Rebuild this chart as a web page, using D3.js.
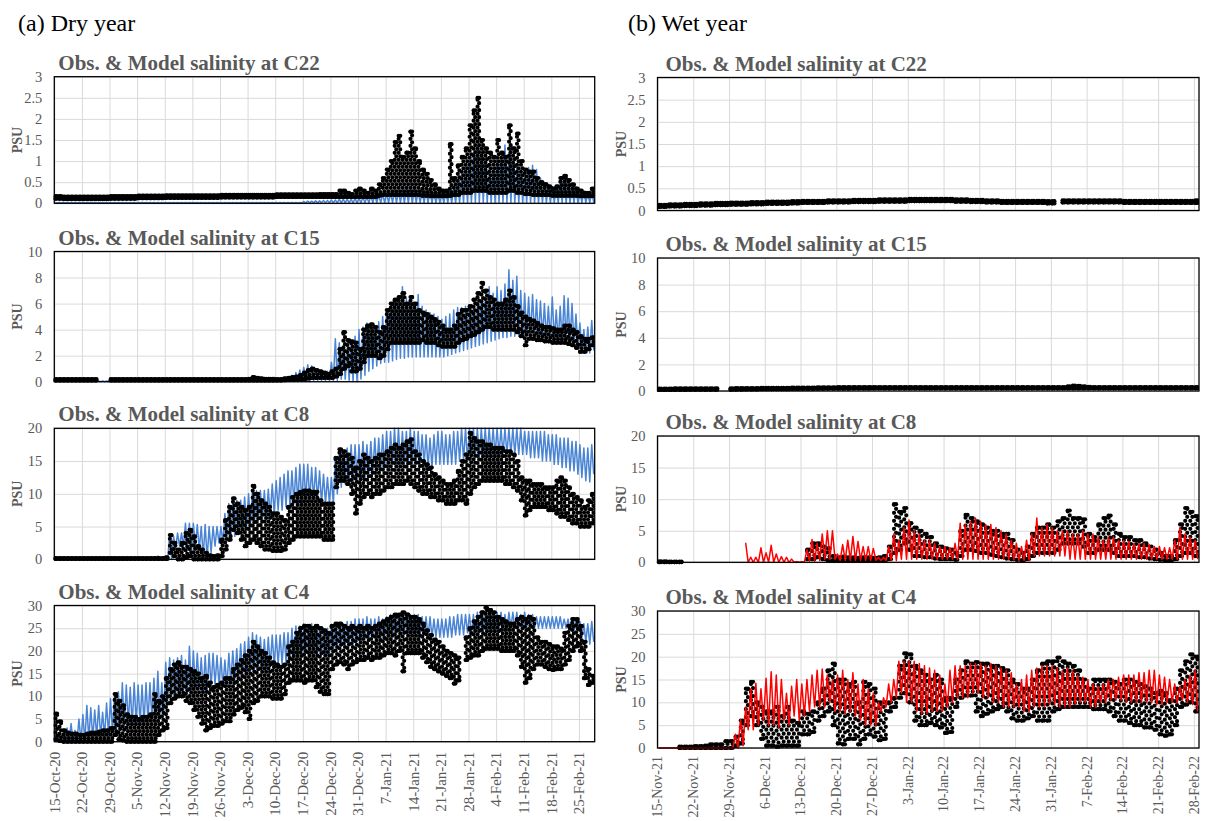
<!DOCTYPE html>
<html><head><meta charset="utf-8">
<script src="https://cdn.jsdelivr.net/npm/d3@7"></script>
<style>body{margin:0;background:#fff}svg{display:block}</style>
</head><body><svg id="c" width="1208" height="821"></svg>
<script>
// ---------- DATA ----------
const dryTickLabels = ["15-Oct-20","22-Oct-20","29-Oct-20","5-Nov-20","12-Nov-20","19-Nov-20","26-Nov-20","3-Dec-20","10-Dec-20","17-Dec-20","24-Dec-20","31-Dec-20","7-Jan-21","14-Jan-21","21-Jan-21","28-Jan-21","4-Feb-21","11-Feb-21","18-Feb-21","25-Feb-21"];
const wetTickLabels = ["15-Nov-21","22-Nov-21","29-Nov-21","6-Dec-21","13-Dec-21","20-Dec-21","27-Dec-21","3-Jan-22","10-Jan-22","17-Jan-22","24-Jan-22","31-Jan-22","7-Feb-22","14-Feb-22","21-Feb-22","28-Feb-22"];
const dryPeriod = ["15-Oct-20","1-Mar-21"];
const wetPeriod = ["15-Nov-21","1-Mar-22"];
const stations = ["C22","C15","C8","C4"];

// Dry year (one value per day from 15-Oct-20): observed daily high / low, model daily max / min
const dryC22ObsHi=[.17,.17,.16,.16,.16,.16,.16, .16,.16,.16,.16,.16,.16,.16, .17,.17,.17,.17,.17,.17,.17, .18,.18,.18,.18,.18,.18,.18, .19,.19,.19,.19,.19,.19,.19, .19,.19,.19,.19,.19,.19,.19, .2,.2,.2,.2,.2,.2,.2, .2,.2,.2,.2,.2,.2,.2, .21,.21,.21,.21,.21,.21,.21, .21,.21,.21,.21,.22,.22,.22, .22,.22,.3,.3,.25,.22,.3, .35,.3,.25,.35,.3,.45,.6, .8,1.0,1.45,1.6,1.1,1.2,1.7, 1.3,1.0,.8,.7,.55,.45,.35, .3,.3,1.4,.6,.9,1.1,1.3, 1.85,2.2,2.5,1.5,1.3,1.2,1.1, 1.5,1.2,1.1,1.85,1.3,1.65,1.0, .8,.75,.75,.6,.5,.45,.4, .35,.4,.6,.65,.55,.45,.35, .3,.25,.25,.35];
const dryC22ObsLo=[.11,.11,.1,.1,.1,.1,.1, .1,.1,.1,.1,.1,.1,.1, .11,.11,.11,.11,.11,.11,.11, .12,.12,.12,.12,.12,.12,.12, .13,.13,.13,.13,.13,.13,.13, .13,.13,.13,.13,.13,.13,.13, .14,.14,.14,.14,.14,.14,.14, .14,.14,.14,.14,.14,.14,.14, .15,.15,.15,.15,.15,.15,.15, .15,.15,.15,.15,.15,.15,.15, .15,.15,.15,.15,.15,.15,.15, .15,.15,.15,.15,.15,.18,.2, .2,.2,.2,.2,.2,.2,.2, .2,.2,.18,.18,.17,.17,.17, .17,.17,.18,.2,.2,.25,.25, .25,.3,.3,.3,.3,.25,.25, .25,.25,.25,.3,.3,.25,.25, .22,.22,.2,.2,.2,.2,.2, .18,.18,.18,.18,.18,.18,.18, .17,.17,.17,.17];
const dryC22ModMax=[.02,.02,.02,.02,.02,.02,.02, .02,.02,.02,.02,.02,.02,.02, .02,.02,.02,.02,.02,.02,.02, .02,.02,.02,.02,.02,.02,.02, .02,.02,.02,.02,.02,.02,.02, .02,.02,.02,.02,.02,.02,.02, .02,.02,.02,.02,.02,.02,.02, .02,.02,.02,.02,.02,.02,.02, .02,.02,.02,.02,.02,.02,.02, .04,.05,.05,.06,.06,.07,.07, .08,.08,.1,.1,.1,.1,.12, .12,.15,.15,.18,.2,.2,.22, .25,.25,.3,.3,.3,.35,.35, .35,.3,.3,.3,.3,.25,.25, .25,.3,.3,.35,.5,.7,.9, 1.0,1.2,1.35,1.2,1.0,.9,.8, 1.0,1.1,1.38,1.2,1.0,.9,.8, .8,.85,.9,.8,.6,.5,.45, .4,.4,.5,.6,.45,.4,.35, .3,.3,.25,.3];
const dryC22ModMin=[.01,.01,.01,.01,.01,.01,.01, .01,.01,.01,.01,.01,.01,.01, .01,.01,.01,.01,.01,.01,.01, .01,.01,.01,.01,.01,.01,.01, .01,.01,.01,.01,.01,.01,.01, .01,.01,.01,.01,.01,.01,.01, .01,.01,.01,.01,.01,.01,.01, .01,.01,.01,.01,.01,.01,.01, .01,.01,.01,.01,.01,.01,.01, .01,.01,.01,.01,.01,.01,.01, .01,.01,.01,.01,.01,.01,.01, .01,.01,.01,.01,.01,.01,.01, .01,.01,.01,.01,.01,.01,.01, .01,.01,.01,.01,.01,.01,.01, .01,.01,.01,.01,.01,.01,.01, .01,.01,.01,.01,.01,.01,.01, .01,.01,.01,.01,.01,.01,.01, .01,.01,.01,.01,.01,.01,.01, .01,.01,.01,.01,.01,.01,.01, .01,.01,.01,.01];

const dryC15ObsHi=[.2,.2,.2,.2,.2,.2,.2, .2,.2,.2,.2,null,null,null, .2,.2,.2,.2,.2,.2,.2, .2,.2,.2,.2,.2,.2,.2, .2,.2,.2,.2,.2,.2,.2, .2,.2,.2,.2,.2,.2,.2, .2,.2,.2,.2,.2,.2,.2, .22,.35,.3,.25,.22,.22,.22, .2,.2,.25,.3,.35,.4,.5, .7,.9,1.0,.9,.8,.7,.6, .8,1.0,2.5,3.8,3.2,3.1,3.0, 2.5,4.0,4.3,4.4,4.2,3.8,4.2, 5.5,6.0,6.3,6.5,6.8,6.0,6.5, 6.0,5.5,5.3,5.2,5.0,4.8,4.6, 4.3,4.0,4.0,4.3,5.2,5.5,5.5, 5.8,6.3,6.8,7.6,7.0,6.5,6.3, 6.0,6.0,6.3,7.0,6.5,5.8,5.3, 5.0,4.8,4.7,4.5,4.3,4.2,4.2, 4.1,4.0,4.0,4.3,4.3,4.0,3.8, 3.5,3.3,3.3,3.4];
const dryC15ObsLo=[.1,.1,.1,.1,.1,.1,.1, .1,.1,.1,.1,null,null,null, .1,.1,.1,.1,.1,.1,.1, .1,.1,.1,.1,.1,.1,.1, .1,.1,.1,.1,.1,.1,.1, .1,.1,.1,.1,.1,.1,.1, .1,.1,.1,.1,.1,.1,.1, .1,.1,.1,.1,.1,.1,.1, .1,.1,.12,.15,.15,.2,.2, .2,.25,.3,.3,.3,.3,.3, .3,.4,.6,1.0,1.2,.8,.8, 1.0,1.5,2.0,2.0,2.0,1.8,2.0, 2.5,3.0,3.0,3.0,3.0,3.0,3.0, 3.0,3.0,3.2,3.0,3.0,3.0,2.8, 2.7,2.7,2.7,2.7,3.0,3.2,3.3, 3.5,3.6,3.8,4.0,4.2,4.2,4.0, 4.0,4.0,4.0,4.0,4.0,3.8,3.5, 2.8,3.3,3.3,3.2,3.2,3.1,3.1, 3.0,3.0,3.0,3.0,2.9,2.8,2.6, 2.3,2.3,2.5,2.8];
const dryC15ModMax=[.05,.05,.05,.05,.05,.05,.05, .05,.05,.05,.05,.05,.05,.05, .05,.05,.05,.05,.05,.05,.05, .05,.05,.05,.05,.05,.05,.05, .05,.05,.05,.05,.05,.05,.05, .05,.05,.05,.05,.05,.05,.05, .05,.05,.05,.05,.05,.05,.05, .05,.05,.05,.05,.05,.05,.05, .1,.1,.2,.3,.5,.7,.9, 1.1,1.3,1.2,1.0,.9,.8,.8, 1.5,3.3,3.0,2.8,2.6,3.0,3.5, 4.0,4.2,4.5,4.5,4.3,4.6,5.0, 5.5,5.8,6.3,6.5,7.3,6.5,6.3, 6.0,6.7,5.8,5.5,5.3,5.2,5.0, 4.8,5.0,5.2,5.5,5.7,5.7,5.8, 5.6,5.7,6.0,6.3,6.5,7.3,6.8, 7.3,7.0,7.5,8.6,7.8,8.1,7.0, 6.8,6.5,6.7,6.3,6.2,6.0,5.8, 6.5,5.5,5.8,6.6,6.4,6.0,5.2, 4.5,4.0,4.2,4.7];
const dryC15ModMin=[0,0,0,0,0,0,0, 0,0,0,0,0,0,0, 0,0,0,0,0,0,0, 0,0,0,0,0,0,0, 0,0,0,0,0,0,0, 0,0,0,0,0,0,0, 0,0,0,0,0,0,0, 0,0,0,0,0,0,0, 0,0,0,0,0,0,0, 0,0,.1,.1,.1,.1,.1, .1,.1,.2,.2,.1,0,0, .2,.5,.8,1.0,1.2,1.4,1.5, 1.5,1.6,1.7,1.8,1.8,1.9,1.9, 1.9,1.9,1.9,1.9,1.9,1.9,1.9, 1.9,2.0,2.1,2.2,2.3,2.4,2.5, 2.6,2.7,2.8,2.9,3.0,3.1,3.2, 3.3,3.4,3.4,3.5,3.5,3.5,3.5, 3.5,3.5,3.4,3.3,3.3,3.2,3.2, 3.1,3.0,3.0,3.0,2.9,2.8,2.6, 2.3,2.2,2.2,2.4];

const dryC8ObsHi=[.2,.2,.2,.2,.2,.2,.2, .2,.2,.2,.2,.2,.2,.2, .2,.2,.2,.2,.2,.2,.2, .2,.2,.2,.2,.2,.2,.2, .3,3.7,2.5,1.5,2.5,4.0,4.5, 3.5,2.0,1.5,1.0,.6,.5,.6, 3.0,6.0,8.0,9.3,8.5,8.0,7.5, 8.0,11.2,10.0,9.0,8.5,8.0,7.0, 7.0,6.5,6.0,8.0,9.5,10.0,10.3, 10.5,10.5,10.3,10.3,9.0,8.5,8.5, 8.5,15.5,16.8,16.5,16.0,15.5,14.0, 15.0,16.0,15.5,15.0,15.5,16.0,16.0, 16.5,17.0,17.5,17.0,17.5,18.0,18.3, 16.5,16.0,15.0,14.5,14.0,13.0,12.5, 12.0,11.5,11.5,12.0,13.5,15.0,16.0, 19.3,18.5,18.0,18.0,17.5,17.5,17.0, 17.0,17.0,16.5,16.5,16.0,15.0,12.5, 12.0,12.0,11.5,11.5,11.5,11.0,11.0, 11.0,12.0,12.5,12.0,11.0,10.0,9.5, 9.0,8.0,9.0,10.0];
const dryC8ObsLo=[.05,.05,.05,.05,.05,.05,.05, .05,.05,.05,.05,.05,.05,.05, .05,.05,.05,.05,.05,.05,.05, .05,.05,.05,.05,.05,.05,.05, .05,1.0,.5,0,0,.3,.5, 0,0,0,0,0,0,0, .5,1.5,3.0,4.5,4.0,3.0,2.0, 2.5,3.0,2.5,2.0,1.5,1.5,1.3, 1.3,1.3,1.5,2.5,3.0,3.5,3.5, 3.5,3.5,3.5,3.5,3.5,3.0,3.0, 3.0,11.0,12.0,12.0,11.5,10.0,7.0, 8.5,9.5,10.0,9.5,10.0,10.0,10.5, 11.0,11.0,11.5,11.5,11.5,12.0,11.5, 11.0,10.5,10.0,10.0,9.5,9.5,9.0, 9.0,8.5,8.5,8.5,9.0,9.0,8.5, 10.0,11.0,11.5,12.0,12.0,12.0,12.0, 12.0,12.0,11.5,11.5,11.0,10.5,9.0, 6.7,7.5,8.0,8.0,8.0,8.0,7.5, 7.5,7.0,6.5,6.5,6.0,5.5,5.5, 5.0,5.0,5.0,5.5];
const dryC8ModMax=[.1,.1,.1,.1,.1,.1,.1, .1,.1,.1,.1,.1,.1,.1, .1,.1,.1,.1,.1,.1,.1, .1,.1,.1,.1,.1,.5,.2, .5,3.8,3.5,4.0,4.0,5.5,5.5, 5.5,5.3,5.0,5.3,5.0,5.0,5.0, 5.0,7.0,8.5,8.8,9.0,9.0,9.5, 10.0,10.5,10.5,10.5,10.5,10.7,11.5, 12.0,12.5,13.0,13.5,13.5,14.0,14.5, 14.5,14.5,14.0,14.0,13.5,13.0,12.5, 12.5,15.5,16.5,16.5,17.0,17.5,17.5, 17.5,18.0,17.5,18.0,18.5,18.5,19.0, 19.5,19.5,20,20,19.5,19.5,20, 19.5,19.5,19.0,19.0,18.5,19.0,19.5, 19.5,19.0,19.0,19.5,19.5,20,20, 20,20,20,20,20,20,20, 20,20,20,20,20,20,20, 19.5,19.5,19.5,19.5,19.5,19.5,19.0, 19.0,19.0,18.5,18.5,18.5,18.0,18.0, 17.5,17.0,17.0,17.5];
const dryC8ModMin=[.05,.05,.05,.05,.05,.05,.05, .05,.05,.05,.05,.05,.05,.05, .05,.05,.05,.05,.05,.05,.05, .05,.05,.05,.05,.05,.05,.05, .05,0,1.5,2.0,2.0,1.5,1.0, 2.0,1.5,.5,0,1.0,2.0,2.5, 2.5,3.0,3.0,3.5,4.0,4.5,5.0, 5.5,5.5,6.0,6.0,6.0,6.5,7.0, 7.5,7.5,8.0,8.0,8.5,8.5,8.5, 9.0,9.0,9.0,9.0,8.5,8.5,8.5, 8.5,10.0,11.0,11.5,12.0,12.0,12.0, 12.5,12.5,13.0,13.0,13.5,13.5,14.0, 14.0,14.5,14.5,14.5,14.5,14.5,14.5, 14.5,14.5,14.5,14.0,14.0,14.5,14.5, 14.5,14.5,14.5,14.5,15.0,15.0,15.0, 15.5,15.5,15.5,16.0,16.0,16.0,16.0, 16.0,16.0,16.0,16.0,16.0,16.0,16.0, 16.0,15.5,15.5,15.5,15.0,15.0,15.0, 14.5,14.5,14.0,14.0,13.5,13.5,13.0, 12.5,12.0,11.8,13.0];

const dryC4ObsHi=[6.2,4.5,2.5,2.0,1.8,1.8,1.5, 1.5,1.8,2.0,2.0,2.2,2.5,2.5, 3.0,10.5,9.0,8.0,6.0,5.5,5.5, 5.0,5.5,5.5,6.0,10.5,9.0,10.0, 14.0,16.0,17.0,17.5,16.5,16.5,16.0, 15.5,15.0,14.0,14.5,13.0,12.0,12.5, 13.0,14.0,14.0,16.0,17.0,18.0,19.0, 20.0,22.0,21.0,20.0,19.5,18.5,17.5, 17.0,16.5,17.0,21.0,22.0,24.0,25.0, 25.5,25.5,25.0,25.5,25.0,24.5,24.0, 25.5,26.0,26.0,25.5,25.0,25.5,25.0, 25.5,25.0,25.5,25.0,25.5,26.0,26.5, 27.0,27.5,28.0,28.0,28.5,28.0,27.5, 27.5,27.0,26.0,24.5,23.5,22.5,22.0, 21.0,20.0,19.5,19.0,18.5,null,23.0, 25.0,26.5,27.5,28.5,29.5,29.0,28.5, 27.5,27.0,26.5,26.0,26.0,27.0,27.5, 27.0,27.5,27.0,23.0,22.0,22.0,21.5, 21.0,21.0,20.5,24.0,25.5,27.0,27.0, 25.5,22.0,16.0,14.5];
const dryC4ObsLo=[.5,.2,0,0,0,0,0, 0,0,0,0,0,0,0, 0,1.5,.5,.3,0,0,0, 0,0,0,0,0,1.5,2.5, 3.0,8.5,9.5,10.0,10.0,9.0,8.5, 7.0,5.5,4.0,2.5,3.0,3.5,3.5, 4.0,4.5,4.5,6.0,7.0,7.5,6.5, 5.0,8.5,9.0,10.0,10.0,10.0,9.5, 9.5,9.5,10.5,13.0,13.5,13.5,13.5, 13.0,13.5,13.5,12.0,11.0,10.5,10.5, 16.0,17.0,17.5,17.0,16.0,17.0,17.5, 18.0,18.0,18.5,18.0,18.5,18.5,19.0, 19.5,19.5,19.0,20.0,15.5,19.5,19.5, 19.5,19.5,18.5,17.5,16.5,16.0,15.5, 15.0,14.5,14.0,12.8,13.5,null,18.0, 18.5,19.0,19.0,20.0,20.5,20.5,20.5, 20.5,20.0,20.0,20.0,20.0,19.0,16.5, 13.0,14.0,16.0,17.0,17.0,16.5,16.0, 15.8,16.0,16.0,17.0,18.0,20.0,21.0, 20.0,14.0,12.5,13.0];
const dryC4ModMax=[1.0,1.5,2.0,3.0,4.0,2.5,5.0, 6.0,8.0,7.5,7.0,8.0,6.5,8.5, 9.5,10.0,11.0,13.0,12.5,12.0,13.0, 12.5,12.5,13.0,13.0,14.0,15.5,13.0, 17.5,18.5,18.0,18.5,19.0,18.0,21.0, 20.0,19.5,18.5,19.0,19.5,19.5,19.0, 18.5,18.0,19.5,20.0,20.5,21.5,22.0, 23.0,24.0,23.5,23.0,22.5,23.0,23.5, 23.5,23.5,24.0,24.0,25.0,25.5,25.5, 26.0,25.5,26.0,25.5,25.0,25.0,25.0, 25.5,25.5,26.0,26.0,26.5,26.5,27.0, 27.0,27.0,27.5,27.0,27.0,27.5,27.0, 27.5,28.0,28.0,28.0,28.5,28.5,28.0, 28.0,28.0,27.5,27.5,27.5,27.0,27.0, 27.0,27.0,27.5,27.5,28.0,28.0,28.0, 28.0,28.0,28.5,28.0,28.0,28.5,28.0, 28.5,28.5,28.0,28.5,28.5,28.5,28.0, 28.5,28.0,28.0,27.5,27.5,27.5,27.5, 27.5,27.5,27.5,27.0,27.0,27.0,27.0, 26.5,26.0,26.0,26.5];
const dryC4ModMin=[0,0,0,0,0,0,0, 0,.5,.5,1.0,1.0,1.0,1.5, 2.0,2.5,3.0,3.0,4.0,3.5,4.0, 4.0,4.0,4.5,5.0,5.0,5.5,6.0, 9.0,10.0,10.0,10.5,11.0,10.5,11.0, 12.0,12.0,11.0,11.0,12.0,12.5,12.5, 12.0,12.0,13.0,13.5,14.0,14.5,15.0, 15.5,16.0,16.0,16.0,16.0,16.5,16.5, 17.0,17.0,17.5,18.0,18.5,18.5,19.0, 19.5,19.5,20.0,19.5,19.0,19.0,19.5, 20.0,20.5,21.0,21.0,21.5,21.5,22.0, 22.0,22.5,22.5,23.0,22.5,22.5,23.0, 23.0,23.5,23.5,23.5,24.0,24.0,24.0, 24.0,23.5,23.5,23.0,23.0,23.0,23.0, 23.0,23.0,23.0,23.5,23.5,23.5,24.0, 23.5,24.0,24.0,24.0,24.5,24.5,24.5, 24.5,24.5,24.5,25.0,25.0,25.0,25.0, 25.0,25.0,25.0,25.0,25.0,25.0,25.0, 25.0,25.0,25.0,25.0,24.5,24.5,24.5, 23.0,22.0,21.5,22.0];

// Wet year (one value per day from 15-Nov-21)
const wetC22ObsHi=[.13,.13,.14,.14,.14,.15,.15, .15,.16,.16,.16,.17,.17,.17, .18,.18,.18,.18,.19,.19,.19, .2,.2,.2,.2,.2,.21,.21, .22,.22,.22,.22,.22,.23,.23, .23,.23,.23,.24,.24,.24,.24, .24,.25,.25,.25,.25,.25,.25, .26,.26,.26,.26,.26,.26,.26, .26,.26,.25,.25,.25,.24,.24, .24,.23,.23,.23,.22,.22,.22, .22,.22,.22,.22,.22,.22,.21, .21,null,.23,.23,.23,.23,.23, .23,.23,.23,.23,.23,.23,.23, .22,.22,.22,.22,.22,.22,.22, .22,.22,.22,.22,.22,.22,.22, .23];
const wetC22ObsLo=[.08,.08,.09,.09,.09,.1,.1, .1,.11,.11,.11,.12,.12,.12, .13,.13,.13,.13,.14,.14,.14, .15,.15,.15,.15,.15,.16,.16, .17,.17,.17,.17,.17,.18,.18, .18,.18,.18,.19,.19,.19,.19, .19,.2,.2,.2,.2,.2,.2, .21,.21,.21,.21,.21,.21,.21, .21,.21,.2,.2,.2,.19,.19, .19,.18,.18,.18,.17,.17,.17, .17,.17,.17,.17,.17,.17,.16, .16,null,.18,.18,.18,.18,.18, .18,.18,.18,.18,.18,.18,.18, .17,.17,.17,.17,.17,.17,.17, .17,.17,.17,.17,.17,.17,.17, .17];

const wetC15ObsHi=[.18,.18,.18,.19,.19,.19,.2, .2,.2,.2,.2,.2,null,null, .2,.21,.21,.22,.22,.22,.23, .23,.23,.24,.24,.24,.25,.25, .26,.26,.26,.27,.27,.28,.28, .29,.29,.29,.3,.3,.3,.3, .3,.3,.3,.3,.3,.3,.3, .3,.3,.3,.3,.3,.3,.3, .3,.3,.3,.3,.3,.3,.3, .3,.3,.3,.3,.3,.3,.3, .3,.3,.3,.3,.3,.3,.3, .3,.3,.3,.35,.4,.38,.35, .32,.3,.3,.3,.3,.3,.3, .3,.3,.3,.3,.3,.3,.3, .3,.3,.3,.3,.3,.3,.3, .3];
const wetC15ObsLo=[.08,.08,.08,.09,.09,.09,.1, .1,.1,.1,.1,.1,null,null, .1,.11,.11,.12,.12,.12,.13, .13,.13,.14,.14,.14,.15,.15, .16,.16,.16,.17,.17,.18,.18, .18,.18,.18,.19,.19,.19,.19, .2,.2,.2,.2,.2,.2,.2, .2,.2,.2,.2,.2,.2,.2, .2,.2,.2,.2,.2,.2,.2, .2,.2,.2,.2,.2,.2,.2, .2,.2,.2,.2,.2,.2,.2, .2,.2,.2,.2,.2,.2,.2, .2,.2,.2,.2,.2,.2,.2, .2,.2,.2,.2,.2,.2,.2, .2,.2,.2,.2,.2,.2,.2, .2];

const wetC8ObsHi=[.15,.15,.12,.1,.1, null,null,null,null,null,null,null,null,null,null,null,null,null,null,null,null,null,null,null,null,null,null,null,null, 2.0,3.0,3.0,2.5,2.2,1.0, .8,.9,.8,.8,.7,.8,.8,.7,.8,1.0, 2.5,9.2,8.0,8.6,6.2,5.5,5.0, 4.5,4.0,3.0,2.5,2.2,2.0,1.5, 5.0,7.5,7.0,6.5,6.0,5.5,5.0, 5.0,4.5,4.5,3.5,2.0,1.5,2.5, 4.5,5.5,5.5,6.0,5.5,6.5,7.0, 8.2,7.0,7.0,6.8,4.5,4.0, 6.0,7.0,7.4,6.0,4.5,4.0,4.0, 3.5,3.5,3.0,2.5,2.0,1.5,1.0, 1.0,3.5,6.0,8.6,8.0,7.3];
const wetC8ObsLo=[.02,.02,.02,.02,.02, null,null,null,null,null,null,null,null,null,null,null,null,null,null,null,null,null,null,null,null,null,null,null,null, .5,.5,.8,.5,.3,.3, .3,.3,.3,.3,.3,.3,.3,.3,.3,.3, .5,1.5,2.0,3.0,2.0,1.0,1.0, .8,.8,.6,.5,.5,.5,.4, 1.0,2.0,2.0,1.8,1.5,1.5,1.2, 1.0,.8,.6,.5,.4,.3,.5, 1.0,1.5,1.5,1.5,1.5,2.0,3.0, 3.0,3.0,3.0,2.5,1.5,1.5, 2.0,2.0,2.0,1.5,1.0,1.0,1.0, 1.0,.8,.8,.6,.5,.4,.3, .3,.5,1.0,1.5,1.5,1.0];
const wetC8ModMax=[null,null,null,null,null,null,null,null,null,null,null,null,null,null,null,null,null, 3.1,.8,.8,2.3,1.5,2.7,1.3,.9,.8,.5,.1,.1, 2.0,3.6,3.0,4.5,5.0,5.0, 1.3,2.8,3.5,4.1,3.3,2.5,2.5,2.2,.8,.8, 2.5,4.5,3.5,5.5,6.7,5.0,4.5, 3.5,3.5,3.0,2.5,2.5,2.3,3.0, 6.2,6.0,6.5,7.0,6.5,6.0,6.0, 5.5,5.0,4.5,3.5,3.0,2.5,3.5, 4.5,7.0,5.5,6.0,5.5,5.0,5.0, 5.0,4.5,4.5,5.0,4.5,4.5,4.0, 3.5,4.0,4.0,3.5,3.5,3.3,3.0, 3.0,3.0,2.8,2.5,2.5,2.3,2.3, 3.5,5.5,4.5,4.0,3.5];
const wetC8ModMin=[null,null,null,null,null,null,null,null,null,null,null,null,null,null,null,null,null, 0,0,0,0,0,0,0,0,0,0,0,0, .2,.2,.3,.5,.5,.5, .3,.3,.3,.3,.3,.3,.3,.3,.3,.3, .3,.3,.5,.5,.5,.5,.5, .5,.5,.5,.5,.5,.5,.5, .5,.5,.5,.5,.5,.5,.5, .5,.5,.5,.4,.3,.3,.3, 1,1,1,1,1,1,1, .5,.5,.5,.5,.5,.5,.5, .5,.5,.5,.5,.5,.5,.5, .5,.5,.5,.5,.5,.5,.5, .5,.5,.5,.5,.5];

const wetC4ObsHi=[null,null,null,null, .3,.3,.3,.4,.4,.5, .8,.8,.8,1.5,1.5,2.5,6.0, 13.0,14.5,10.0,9.0,8.0,8.0,9.0, 7.0,9.0,6.0,5.5,8.0,7.5,8.0, 10.0,13.0,17.0,18.5,15.0,15.0,14.0, 14.5,10.0,14.5,14.0,13.0,10.0,10.0, 10.0,11.0,18.0,20.7,20.5,18.0,17.0, 16.0,15.0,16.0,15.0,11.0,11.0,15.0, 17.0,19.0,18.5,18.8,18.5,18.5,18.0, 18.0,17.5,17.0,15.0,14.0,13.0,13.0, 15.0,17.0,18.5,19.0,19.0,19.8,19.0, 18.5,18.0,17.0,15.0,13.0,15.0,15.0, 15.0,15.0,14.5,14.0,15.0,15.0,14.5, 14.0,13.5,13.0,12.0,12.5,12.0,10.5, 13.0,17.0,19.0,20.5,20.0];
const wetC4ObsLo=[null,null,null,null, 0,0,0,0,0,0, 0,0,0,0,0,.5,1.0, 5.0,7.0,5.0,2.0,.5,.5,.3, .5,.5,.5,.5,3.0,3.0,3.5, 6.0,7.0,8.0,5.0,1.0,.8,2.0, 2.0,.8,2.0,3.0,2.5,1.7,2.0, 8.0,9.0,11.0,12.0,10.0,6.0,5.0, 5.0,5.5,5.0,4.5,3.3,3.5,9.0, 11.0,11.5,11.5,8.0,7.0,7.5,8.0, 8.5,9.0,8.0,6.5,6.0,6.0,6.5, 7.0,6.0,6.0,6.0,8.0,8.5,9.0, 9.0,9.0,9.0,9.0,9.0,8.5,8.5, 8.5,8.0,7.0,6.0,6.0,5.5,5.0, 5.0,4.5,4.5,4.0,3.0,2.7,3.0, 5.0,9.0,9.5,10.0,8.0];
const wetC4ModMax=[0,0,0,0,0,0,0,0,0,0,0,0,0,0,0, 3.0,6.2, 9,13,14.2,13,15.3,16.7,16, 15,12,13.5,15,14,15,16, 17,17.3,16,15,16,17,15, 16.5,14,15,13,12,10,11, 14,15,19,19,19,19,18.5, 18,17.5,17,16,14,17,18, 18,18,18.5,18.5,18.5,18,18.5, 18,17.5,17,16.5,14,15,16, 17,17.5,18,18,18,17.5,17, 17.5,17,16,15.5,15,14,13.5, 14,15,15,15.5,16,16,16, 16.5,16.5,17,17,16,15.5,15, 14,13.5,15,16,17];
const wetC4ModMin=[0,0,0,0,0,0,0,0,0,0,0,0,0,0,0, 0,.5, 4,4,5,6,5,5,4.5, 6,5,7,6,7,8,9, 9,9,10,8,8,7.5,8, 7,6,5,5,5,8,9, 10,11,12,10,10,8,7.5, 7.5,8,8,8,9,10,11, 11,11,12,12,11,11,10, 10,9,9,9,9,8,8, 9,9,9,9.5,9.5,9,9, 9,9.5,10,10,9,9,10, 10,10.5,10.5,10.5,10,10,10, 10,10,10,9.5,9.5,10,10, 10,10.5,10,9.5,8];

// ---------- DRAWING ----------
const FONT = "'Liberation Serif','Times New Roman',serif";
const GREY = "#595959";
const BLUE = "#4a84d4", RED = "#ff0000";
const parse = d3.timeParse("%d-%b-%y");
const DAY = 864e5;
const svg = d3.select("#c");

const cols = [
  {start: parse(dryPeriod[0]), end: parse(dryPeriod[1]), ticks: dryTickLabels, x0: 54.3, x1: 594.7, head: "(a) Dry year", headX: 18, psuX: 17.5, titleDx: 4, color: BLUE, modelOnTop: false, dotGap: 7, xFont: 15, xGap: 10},
  {start: parse(wetPeriod[0]), end: parse(wetPeriod[1]), ticks: wetTickLabels, x0: 657.5, x1: 1199, head: "(b) Wet year", headX: 628, psuX: 621.5, titleDx: 8, color: RED, modelOnTop: true, dotGap: 8, xFont: 14, xGap: 8}
];
const rowsLayout = [
  [{y0: 76.7, y1: 203.3}, {y0: 77.5, y1: 210.5}],
  [{y0: 251.5, y1: 381.7}, {y0: 258, y1: 391}],
  [{y0: 428.3, y1: 559.3}, {y0: 436, y1: 562.3}],
  [{y0: 605.5, y1: 741.7}, {y0: 611, y1: 748}]
];
const yMax = [3, 10, 20, 30], yStep = [0.5, 2, 5, 5];
const series = [
  [ [dryC22ObsHi, dryC22ObsLo, dryC22ModMax, dryC22ModMin], [wetC22ObsHi, wetC22ObsLo, null, null] ],
  [ [dryC15ObsHi, dryC15ObsLo, dryC15ModMax, dryC15ModMin], [wetC15ObsHi, wetC15ObsLo, null, null] ],
  [ [dryC8ObsHi, dryC8ObsLo, dryC8ModMax, dryC8ModMin], [wetC8ObsHi, wetC8ObsLo, wetC8ModMax, wetC8ModMin] ],
  [ [dryC4ObsHi, dryC4ObsLo, dryC4ModMax, dryC4ModMin], [wetC4ObsHi, wetC4ObsLo, wetC4ModMax, wetC4ModMin] ]
];

cols.forEach((c, ci) => {
  svg.append("text").attr("x", c.headX).attr("y", 31).attr("font-family", FONT).attr("font-size", 24).attr("fill", "#000").text(c.head);
  const tickDates = c.ticks.map(parse);
  stations.forEach((st, ri) => {
    const L = rowsLayout[ri][ci];
    const [oHi, oLo, mMax, mMin] = series[ri][ci];
    const x = d3.scaleTime().domain([c.start, c.end]).range([c.x0, c.x1]);
    const y = d3.scaleLinear().domain([0, yMax[ri]]).range([L.y1, L.y0]);
    const tAt = (d, f) => new Date(c.start.getTime() + (d + f) * DAY);
    const g = svg.append("g");

    // horizontal gridlines + y labels
    g.append("g").attr("transform", `translate(${c.x0},0)`)
      .call(d3.axisLeft(y).tickValues(d3.range(0, yMax[ri] + yStep[ri] / 2, yStep[ri]))
        .tickSize(-(c.x1 - c.x0)).tickPadding(12).tickFormat(d3.format("~g")))
      .call(a => {
        a.select(".domain").remove();
        a.selectAll(".tick line").attr("stroke", "#d9d9d9").attr("stroke-width", 1);
        a.selectAll(".tick text").attr("font-family", FONT).attr("font-size", 14.5).attr("fill", GREY);
      });
    // vertical gridlines
    g.append("g").attr("transform", `translate(0,${L.y1})`)
      .call(d3.axisBottom(x).tickValues(tickDates).tickSize(-(L.y1 - L.y0)).tickFormat(""))
      .call(a => {
        a.select(".domain").remove();
        a.selectAll(".tick line").attr("stroke", "#d9d9d9").attr("stroke-width", 1);
      });

    const clipId = `clip-${ci}-${ri}`;
    svg.append("clipPath").attr("id", clipId).append("rect")
      .attr("x", c.x0 - 1).attr("y", L.y0 - 3).attr("width", c.x1 - c.x0 + 1).attr("height", L.y1 - L.y0 + 6);
    const plot = g.append("g").attr("clip-path", `url(#${clipId})`);

    const drawModel = () => {
      if (!mMax) return;
      const pts = [];
      mMax.forEach((v, d) => { pts.push([tAt(d, 0.25), v]); pts.push([tAt(d, 0.75), mMin[d]]); });
      plot.append("path").datum(pts)
        .attr("fill", "none").attr("stroke", c.color).attr("stroke-width", 1.5).attr("stroke-linejoin", "round")
        .attr("d", d3.line().defined(q => q[1] != null).x(q => x(q[0])).y(q => y(q[1])));
    };
    const drawObs = () => {
      // each day's observations drawn as two staggered columns of dots spanning the daily low..high
      const obs = [];
      oHi.forEach((h, d) => {
        if (h == null) return;
        obs.push({t: tAt(d, 0.3), hi: h, lo: oLo[d], off: 0});
        obs.push({t: tAt(d, 0.7), hi: h, lo: oLo[d], off: c.dotGap / 2});
      });
      const og = plot.append("g");
      og.selectAll("path").data(obs).join("path")
        .attr("d", o => `M${x(o.t)},${y(o.lo)}V${y(o.hi)}`)
        .attr("stroke", "#000").attr("stroke-width", 4.2).attr("stroke-linecap", "round")
        .attr("stroke-dasharray", `0,${c.dotGap}`).attr("stroke-dashoffset", o => o.off).attr("fill", "none");
      og.selectAll("circle.hi").data(obs).join("circle").attr("class", "hi")
        .attr("cx", o => x(o.t)).attr("cy", o => y(o.hi)).attr("r", 2.1).attr("fill", "#000");
      og.selectAll("circle.lo").data(obs).join("circle").attr("class", "lo")
        .attr("cx", o => x(o.t)).attr("cy", o => y(o.lo)).attr("r", 2.1).attr("fill", "#000");
    };
    if (c.modelOnTop) { drawObs(); drawModel(); } else { drawModel(); drawObs(); }

    // frame
    g.append("rect").attr("x", c.x0).attr("y", L.y0).attr("width", c.x1 - c.x0).attr("height", L.y1 - L.y0)
      .attr("fill", "none").attr("stroke", "#000").attr("stroke-width", 1.3);

    // title and axis title
    g.append("text").attr("x", c.x0 + c.titleDx).attr("y", L.y0 - 7)
      .attr("font-family", FONT).attr("font-size", 21).attr("font-weight", "bold").attr("fill", GREY)
      .text(`Obs. & Model salinity at ${st}`);
    g.append("text").attr("transform", `translate(${c.psuX},${(L.y0 + L.y1) / 2}) rotate(-90)`)
      .attr("text-anchor", "middle").attr("dy", "0.35em")
      .attr("font-family", FONT).attr("font-size", 14).attr("font-weight", "bold").attr("fill", GREY).text("PSU");

    // date labels under the bottom panels
    if (ri === stations.length - 1) {
      g.selectAll("text.xl").data(c.ticks).join("text").attr("class", "xl")
        .attr("transform", (s) => `translate(${x(parse(s))},${L.y1 + c.xGap}) rotate(-90)`)
        .attr("text-anchor", "end").attr("dy", "0.35em")
        .attr("font-family", FONT).attr("font-size", c.xFont).attr("fill", GREY).text(s => s);
    }
  });
});
</script></body></html>
